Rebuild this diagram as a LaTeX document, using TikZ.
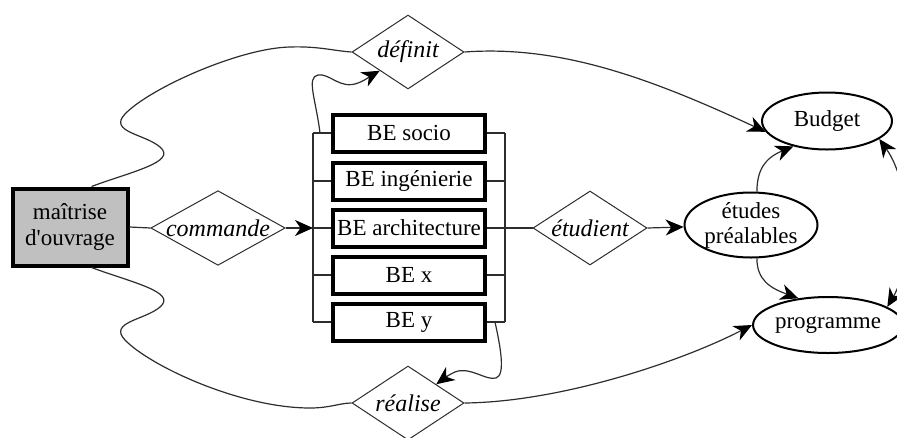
\documentclass[tikz,border=0pt]{standalone}
\usepackage{fontspec}
\setmainfont{Liberation Serif}
\usetikzlibrary{arrows.meta,positioning,shapes.geometric}
\definecolor{mogray}{RGB}{192,192,192}
\definecolor{linkgray}{RGB}{45,45,45}

\begin{document}
\begin{tikzpicture}[x=1pt,y=-1pt,
  font=\rmfamily\fontsize{23}{26}\selectfont,
  actor/.style={draw, line width=4pt, fill=mogray, align=center,
    minimum width=115pt, minimum height=77pt, inner sep=0pt},
  bebox/.style={draw, line width=4pt, minimum width=152pt, minimum height=37pt, inner sep=0pt},
  rel/.style={draw=linkgray, line width=1pt, shape=diamond, aspect=1.8, inner sep=0pt,
    minimum width=112pt, minimum height=74pt, font=\rmfamily\fontsize{24}{26}\selectfont\itshape},
  ent/.style={draw, line width=2pt, shape=ellipse, inner sep=0pt, align=center,
    font=\rmfamily\fontsize{23}{25}\selectfont},
  lnk/.style={draw=linkgray, line width=1.2pt},
  tip/.tip={Stealth[length=18pt,width=16pt,inset=5.5pt,color=black]},
  arr/.style={lnk, -tip}]
\useasboundingbox (0,0) rectangle (897,437);
% Maitrise d'ouvrage and order
\node[actor] (mo) at (70,227) {maîtrise\\d\textquotesingle ouvrage};
\node[rel, minimum width=133pt] (commande) at (218,228) {commande};
% Design offices
\node[bebox] (socio) at (409,133) {BE socio};
\node[bebox] (inge) at (409,181) {BE ingénierie};
\node[bebox] (archi) at (409,228) {BE architecture};
\node[bebox] (bex) at (409,275) {BE x};
\node[bebox] (bey) at (409,322) {BE y};
\foreach \b in {socio,inge,archi,bex,bey}{
  \coordinate (\b-l) at ([xshift=-18pt]\b.west);
  \coordinate (\b-r) at ([xshift=18pt]\b.east);
  \draw[lnk] (\b-l) -- (\b.west);
  \draw[lnk] (\b.east) -- (\b-r);
}
\draw[lnk] (socio-l) -- (bey-l);
\draw[lnk] (socio-r) -- (bey-r);
% Relations
\node[rel] (definit) at (408,52) {définit};
\node[rel] (realise) at (408,403) {réalise};
\node[rel, minimum width=114pt] (etudient) at (590,228) {étudient};
% Entities
\node[ent, minimum width=133pt, minimum height=65pt] (etudes) at (751,225) {études\\préalables};
\node[ent, minimum width=130pt, minimum height=57pt] (budget) at (827,121) {Budget};
\node[ent, minimum width=130pt, minimum height=56pt] (programme) at (828,325) {programme};
% Straight links
\draw[lnk] (mo.east) -- (commande.west);
\draw[arr] (commande.east) -- (archi-l);
\draw[lnk] (archi-r) -- (etudient.west);
\draw[arr] (etudient.east) -- (etudes);
% Curved links
\coordinate (socio-up) at ([xshift=7pt]socio-l);
\coordinate (bey-dn) at ([xshift=-10pt]bey-r);
\draw[lnk] (mo.62) .. controls (130,172) and (178,162) .. (160,147)
  .. controls (145,134) and (108,132) .. (125,114)
  .. controls (150,88) and (240,48) .. (290,47)
  .. controls (318,46) and (335,51) .. (definit.west);
\draw[arr] (socio-up) .. controls (316,100) and (306,77) .. (318,75)
  .. controls (330,73) and (340,90) .. (358,83)
  .. controls (366,80) and (372,75) .. (definit.south west);
\draw[arr] (definit.east) .. controls (560,45) and (650,78) .. (budget.190);
\draw[lnk] (mo.-62) .. controls (130,282) and (178,292) .. (160,307)
  .. controls (145,320) and (108,322) .. (125,340)
  .. controls (150,366) and (240,408) .. (310,408)
  .. controls (330,408) and (340,403) .. (realise.west);
\draw[arr] (bey-dn) .. controls (500,345) and (506,375) .. (496,378)
  .. controls (486,381) and (470,366) .. (455,372)
  .. controls (448,375) and (442,380) .. (realise.north east);
\draw[arr] (realise.east) .. controls (560,402) and (680,362) .. (programme.west);
\draw[arr] (etudes.80) .. controls (757,170) and (765,158) .. (budget.217);
\draw[arr] (etudes.-80) .. controls (757,280) and (770,288) .. (programme.138);
\draw[lnk, tip-tip] (budget.-19) .. controls (912,185) and (912,265) .. (programme.17);
\end{tikzpicture}
\end{document}
